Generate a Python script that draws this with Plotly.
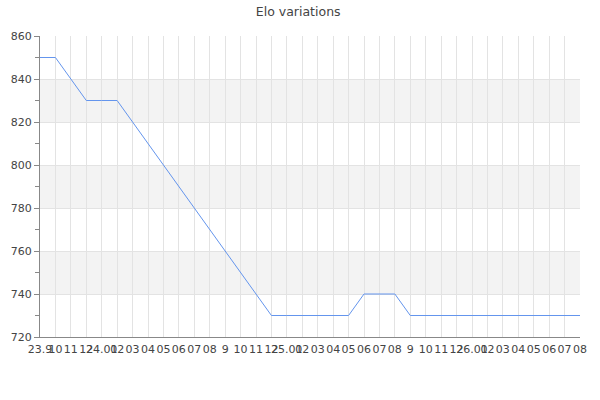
import plotly.graph_objects as go

# month tick labels as shown under the chart
months = ["23.9", "10", "11", "12",
          "24.01", "02", "03", "04", "05", "06", "07", "08", "9", "10", "11", "12",
          "25.01", "02", "03", "04", "05", "06", "07", "08", "9", "10", "11", "12",
          "26.01", "02", "03", "04", "05", "06", "07", "08"]

elo = [850, 850, 840, 830, 830, 830, 820, 810, 800, 790, 780, 770,
       760, 750, 740, 730, 730, 730, 730, 730, 730, 740, 740, 740,
       730, 730, 730, 730, 730, 730, 730, 730, 730, 730, 730, 730]

y_ticks = [720, 740, 760, 780, 800, 820, 840, 860]
bands = [(740, 760), (780, 800), (820, 840)]

x = list(range(len(months)))

fig = go.Figure()
fig.add_trace(go.Scatter(
    x=x, y=elo, mode="lines",
    line=dict(color="#6495ed", width=1),
    hoverinfo="skip",
))

for lo, hi in bands:
    fig.add_shape(type="rect", xref="paper", yref="y", x0=0, x1=1, y0=lo, y1=hi,
                  fillcolor="#f3f3f3", line_width=0, layer="below")

fig.update_layout(
    title=dict(text="Elo variations", x=0.497, xanchor="center", y=0.97, yanchor="middle",
               font=dict(size=12.5, color="#444")),
    width=600, height=400,
    margin=dict(l=40, r=20, t=36, b=63),
    plot_bgcolor="white", paper_bgcolor="white",
    font=dict(family="DejaVu Sans", size=11, color="#444"),
    showlegend=False,
    hovermode=False,
)
fig.update_xaxes(
    range=[0, len(months) - 1], tickvals=x, ticktext=months, tickangle=0,
    showgrid=True, gridcolor="#e3e3e3", gridwidth=1,
    showline=True, linecolor="#888", linewidth=1, ticks="", zeroline=False,
    ticklabelstandoff=2, automargin=False,
)
fig.update_yaxes(
    range=[720, 860], tickvals=y_ticks,
    showgrid=True, gridcolor="#e3e3e3", gridwidth=1,
    showline=True, linecolor="#888", linewidth=1,
    ticks="outside", ticklen=5, tickcolor="#888", zeroline=False,
    minor=dict(dtick=10, ticks="outside", ticklen=4, tickcolor="#888", showgrid=False),
    automargin=False,
)

# drop the browser's default body margin so the figure sits at the window corner
fig.write_html("out.html", config={"displayModeBar": False},
               post_script="document.body.style.margin='0';")
